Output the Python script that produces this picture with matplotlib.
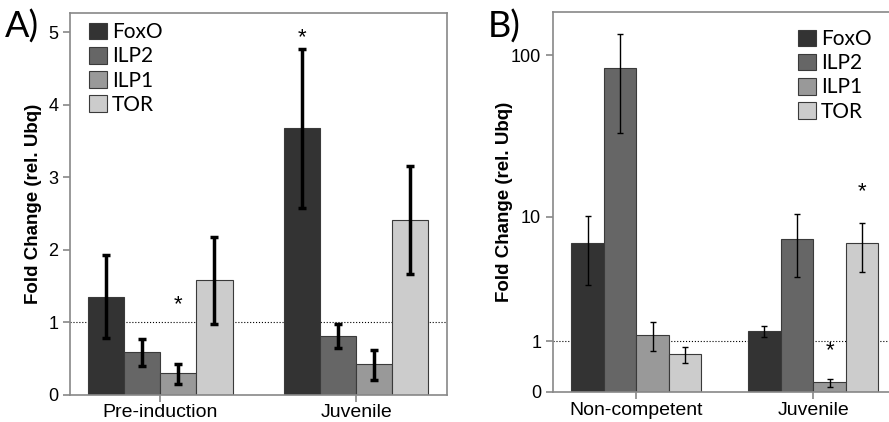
import numpy as np
import matplotlib
matplotlib.use('Agg')
from matplotlib import pyplot as plt
from matplotlib.patches import Patch

genes = ['FoxO', 'ILP2', 'ILP1', 'TOR']
colors = ['#333333', '#666666', '#999999', '#cccccc']

# panel A
groups_a = ['Pre-induction', 'Juvenile']
mean_a = [[1.35, 3.68], [0.58, 0.81], [0.29, 0.42], [1.58, 2.41]]
err_hi_a = [[1.92, 4.77], [0.76, 0.97], [0.42, 0.62], [2.18, 3.16]]
err_lo_a = [[0.78, 2.58], [0.40, 0.64], [0.15, 0.20], [0.97, 1.67]]

# panel B
groups_b = ['Non-competent', 'Juvenile']
mean_b = [[6.7, 1.29], [83.5, 7.1], [1.18, 0.14], [0.68, 6.7]]
err_hi_b = [[10.2, 1.47], [133, 10.4], [1.6, 0.195], [0.86, 9.1]]
err_lo_b = [[3.3, 1.12], [33.8, 3.8], [0.75, 0.07], [0.49, 4.2]]

plt.rcParams['font.family'] = ['Liberation Sans', 'DejaVu Sans']
W, H = 889, 422
fig = plt.figure(figsize=(W / 100, H / 100), dpi=100)

bw = 0.184
x = np.arange(2)
leg_font = {'family': 'Lato', 'size': 15}


def draw(ax, groups, mean, hi, lo, lw, cs):
    for i in range(4):
        pos = x + (i - 1.5) * bw
        m = np.array(mean[i])
        yerr = [m - np.array(lo[i]), np.array(hi[i]) - m]
        ax.bar(pos, m, bw, color=colors[i], edgecolor='#3a3a3a', linewidth=0.8, zorder=2)
        ax.errorbar(pos, m, yerr=yerr, fmt='none', ecolor='black', elinewidth=lw,
                    capsize=cs, capthick=lw, zorder=3)
    ax.axhline(1, color='black', linestyle=':', linewidth=0.8, zorder=1)
    ax.set_xticks(x)
    ax.set_xticklabels(groups, fontsize=14)
    for s in ax.spines.values():
        s.set_color('#888888')
        s.set_linewidth(1.2)
    ax.tick_params(axis='both', color='#888888', length=5, width=1.2)
    ax.tick_params(axis='x', pad=2)
    ax.tick_params(axis='y', labelsize=13)
    ax.set_ylabel('Fold Change (rel. Ubq)', fontsize=13.5, fontweight='bold')
    handles = [Patch(facecolor=c, edgecolor='#3a3a3a', linewidth=0.8) for c in colors]
    return handles


ax1 = fig.add_axes([70 / W, (H - 394.5) / H, (446.7 - 70) / W, (394.5 - 12.7) / H])
h = draw(ax1, groups_a, mean_a, err_hi_a, err_lo_a, 2.5, 2.8)
ax1.set_xlim(-0.462, 1.462)
ax1.set_ylim(0, 5.27)
ax1.set_yticks([0, 1, 2, 3, 4, 5])
ax1.yaxis.set_label_coords(-0.074, 0.5)
ax1.legend(h, genes, loc='upper left', bbox_to_anchor=(0.05, 0.975), frameon=False,
           prop=leg_font, handlelength=0.85, handleheight=0.85,
           labelspacing=0.2, handletextpad=0.25, borderaxespad=0, borderpad=0)
ax1.text(1 - 1.5 * bw, 4.92, '*', ha='center', va='center', fontsize=16)
ax1.text(0.5 * bw, 1.24, '*', ha='center', va='center', fontsize=16)
fig.text(5 / W, (H - 27) / H, 'A)', fontsize=26, family='Lato', va='center', ha='left')


def fwd(v):
    return np.log10(np.clip(v, 0, None) + 1)


def inv(v):
    return 10 ** v - 1


ax2 = fig.add_axes([553 / W, (H - 392) / H, (896.7 - 553) / W, (392 - 12) / H])
ax2.set_yscale('function', functions=(fwd, inv))
h = draw(ax2, groups_b, mean_b, err_hi_b, err_lo_b, 1.0, 2.3)
ax2.set_xlim(-0.471, 1.471)
ax2.set_ylim(0, 181)
ax2.set_yticks([0, 1, 10, 100])
ax2.set_yticklabels(['0', '1', '10', '100'])
ax2.yaxis.set_minor_locator(matplotlib.ticker.NullLocator())
ax2.yaxis.set_label_coords(-0.116, 0.5)
ax2.legend(h, genes, loc='upper left', bbox_to_anchor=(0.713, 0.955), frameon=False,
           prop=leg_font, handlelength=0.85, handleheight=0.85,
           labelspacing=0.2, handletextpad=0.25, borderaxespad=0, borderpad=0)
ax2.text(1 + 0.5 * bw, 0.75, '*', ha='center', va='center', fontsize=16)
ax2.text(1 + 1.5 * bw, 14.5, '*', ha='center', va='center', fontsize=16)
fig.text(488 / W, (H - 27) / H, 'B)', fontsize=26, family='Lato', va='center', ha='left')

fig.savefig('out.png', dpi=100)
